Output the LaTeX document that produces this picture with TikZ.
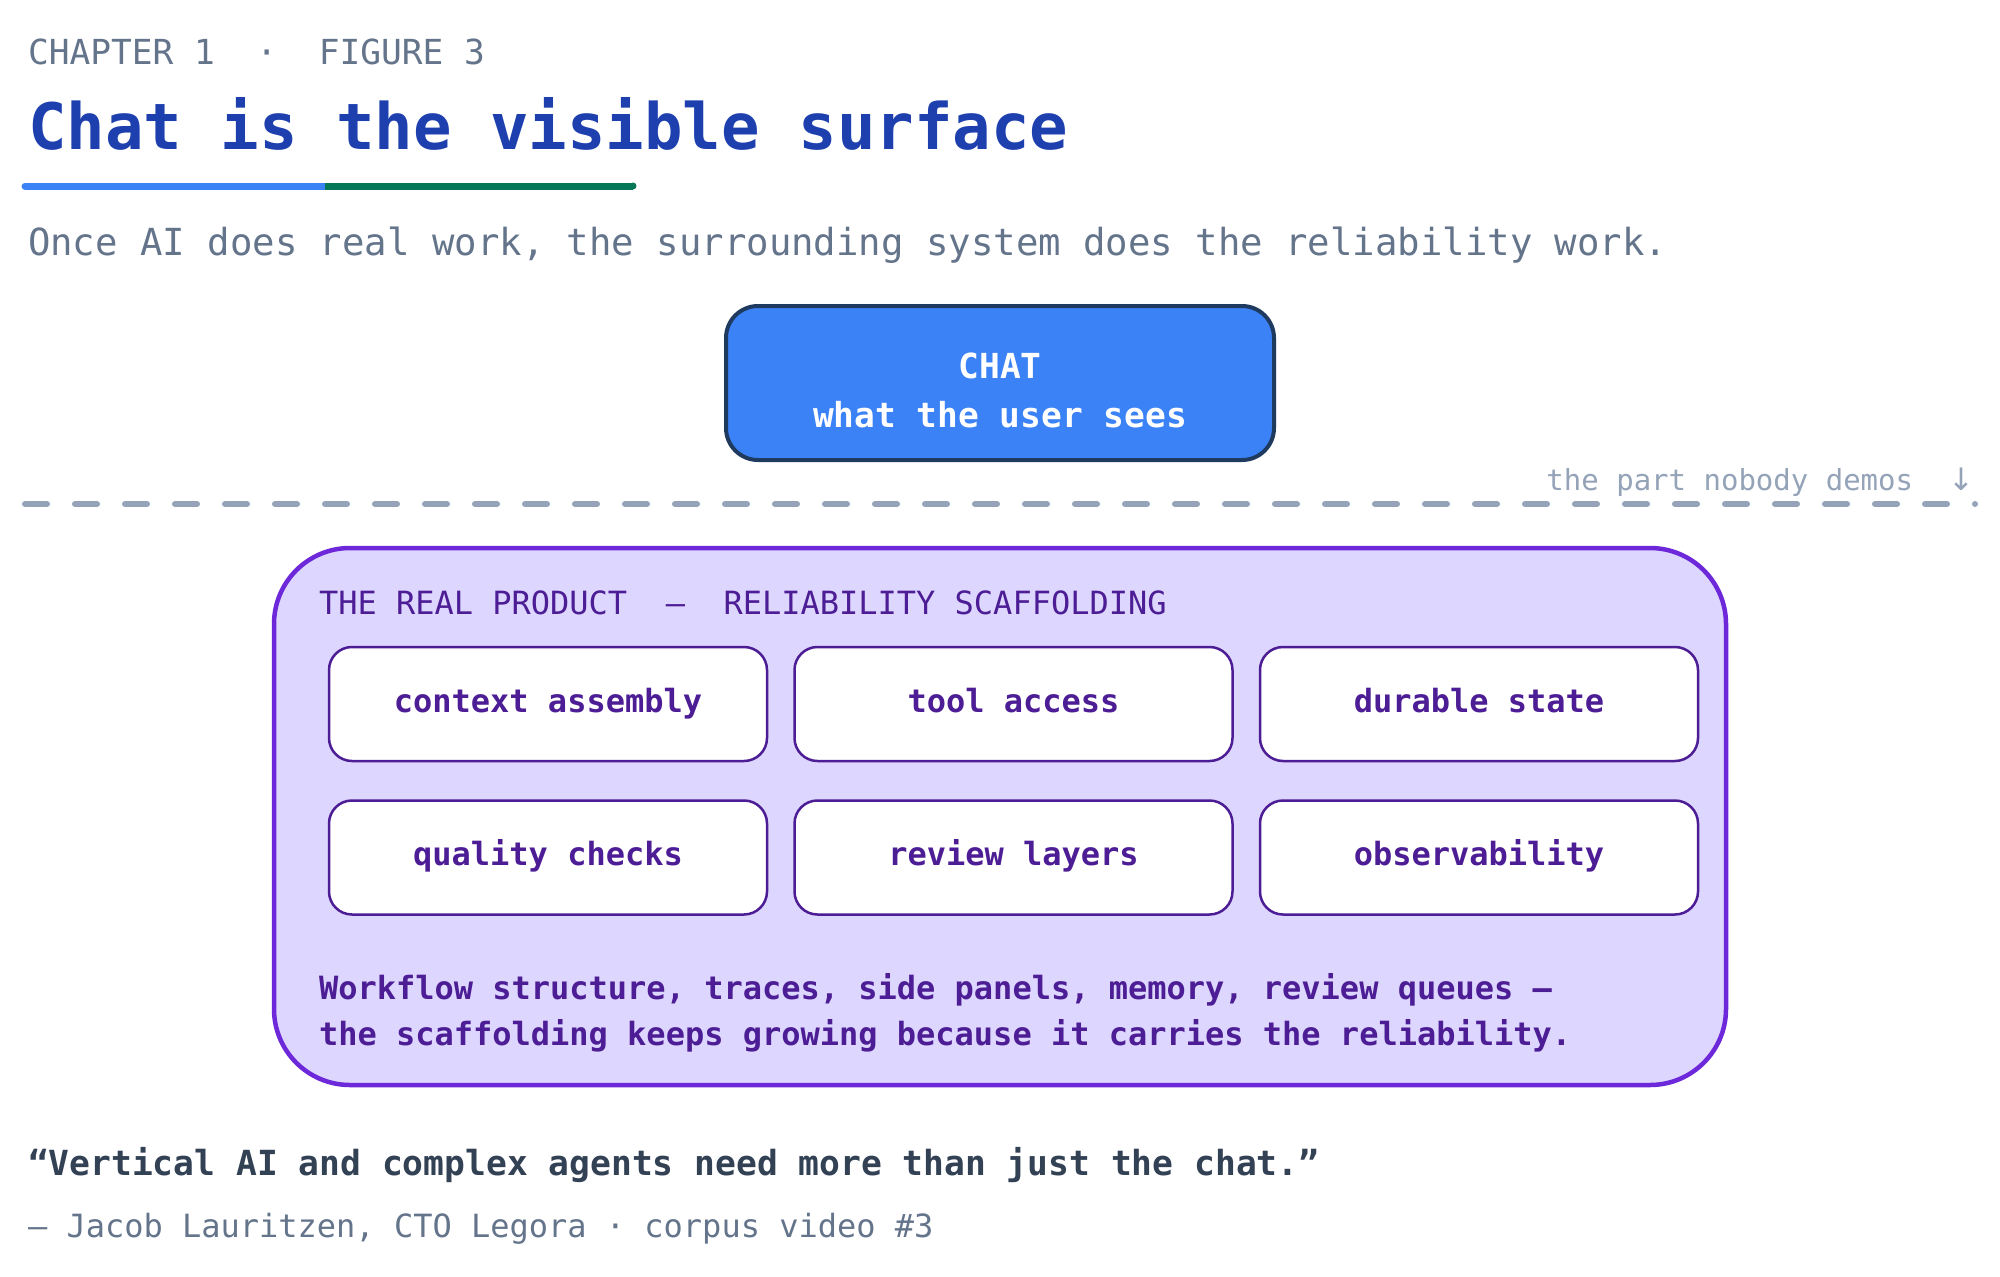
\documentclass[tikz,border=0pt]{standalone}
\usepackage{fontspec}
\setmainfont{DejaVu Sans Mono}[WordSpace={1,0,0}]
\newfontfamily\arrowfont{DejaVu Sans}
\definecolor{slateA}{HTML}{64748B}
\definecolor{slateB}{HTML}{94A3B8}
\definecolor{slateC}{HTML}{334155}
\definecolor{titleblue}{HTML}{1E40AF}
\definecolor{barblue}{HTML}{3B82F6}
\definecolor{bargreen}{HTML}{047857}
\definecolor{chatborder}{HTML}{1E3A5F}
\definecolor{violetfill}{HTML}{DDD6FE}
\definecolor{violetline}{HTML}{6D28D9}
\definecolor{violetdark}{HTML}{4C1D95}
\newcommand\fsz[1]{\fontsize{#1pt}{#1pt}\selectfont}
\begin{document}
\begin{tikzpicture}[x=1pt,y=-1pt,
  every node/.style={inner sep=0pt, outer sep=0pt},
  lefttext/.style={anchor=base west},
  chatbox/.style={draw=chatborder, fill=barblue, line width=4pt, rounded corners=32pt, minimum width=548pt, minimum height=154pt},
  chattext/.style={anchor=base, text=white, font=\fsz{34.5}\bfseries},
  realbox/.style={draw=violetline, fill=violetfill, line width=4.5pt, rounded corners=76pt, minimum width=1452pt, minimum height=537pt},
  itembox/.style={draw=violetdark, fill=white, line width=2.5pt, rounded corners=23pt, minimum width=438pt, minimum height=114pt, text=violetdark, font=\fsz{32}\bfseries, text height=24pt, text depth=8pt},
  divider/.style={draw=slateB, line width=6pt, line cap=round, dash pattern=on 22pt off 28pt}
]
\path[use as bounding box] (0,0) rectangle (2000,1277);
\fill[white] (0,0) rectangle (2000,1277);

\node[lefttext, text=slateA, font=\fsz{34.5}] (kicker) at (28,64) {CHAPTER 1\ \ ·\ \ FIGURE 3};
\node[lefttext, text=titleblue, font=\fsz{64}\bfseries] (title) at (28,149) {Chat is the visible surface};

\coordinate (b1) at (25,186);
\coordinate (b2) at (325,186);
\coordinate (b3) at (633,186);
\draw[barblue, line width=7pt, line cap=round] (b1) -- (b2);
\draw[bargreen, line width=7pt, line cap=butt] (b2) -- (b3);
\fill[bargreen] (b3) circle (3.5pt);

\node[lefttext, text=slateA, font=\fsz{37.3}] (subtitle) at (28,255) {Once AI does real work, the surrounding system does the reliability work.};

\node[chatbox] (chat) at (1000,383) {};
\node[chattext] (chat1) at (1000,378) {CHAT};
\node[chattext] (chat2) at (1000,427) {what the user sees};

\coordinate (dl) at (25,504);
\coordinate (dr) at (1975,504);
\draw[divider] (dl) -- (dr);
\node[anchor=base east, text=slateB, font=\fsz{29}] (demos) at (1974,490) {the part nobody demos\ \ {\arrowfont\fsz{31}↓}};

\node[realbox] (real) at (1000,816.5) {};
\node[lefttext, text=violetdark, font=\fsz{32}] (realtitle) at (319,614) {THE REAL PRODUCT\ \ —\ \ RELIABILITY SCAFFOLDING};

\node[itembox] (i1) at (548,704) {context assembly};
\node[itembox] (i2) at (1013.5,704) {tool access};
\node[itembox] (i3) at (1479,704) {durable state};
\node[itembox] (i4) at (548,857.5) {quality checks};
\node[itembox] (i5) at (1013.5,857.5) {review layers};
\node[itembox] (i6) at (1479,857.5) {observability};

\node[lefttext, text=violetdark, font=\fsz{32}\bfseries] (foot1) at (319,999) {Workflow structure, traces, side panels, memory, review queues —};
\node[lefttext, text=violetdark, font=\fsz{32}\bfseries] (foot2) at (319,1045) {the scaffolding keeps growing because it carries the reliability.};

\node[lefttext, text=slateC, font=\fsz{34.6}\bfseries] (quote) at (28,1175) {“Vertical AI and complex agents need more than just the chat.”};
\node[lefttext, text=slateA, font=\fsz{32}] (attrib) at (28,1237) {— Jacob Lauritzen, CTO Legora · corpus video \#3};
\end{tikzpicture}
\end{document}
